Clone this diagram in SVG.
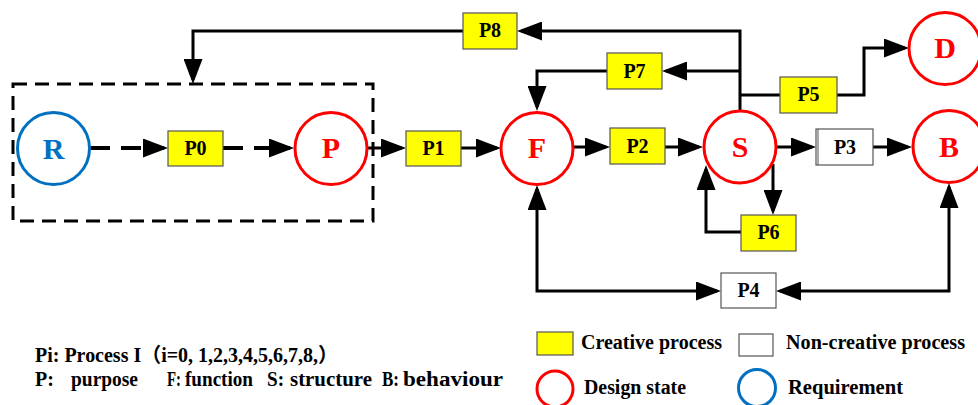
<svg xmlns="http://www.w3.org/2000/svg" width="978" height="405" viewBox="0 0 978 405">
<defs>
<marker id="arr" viewBox="0 0 25 19" refX="21" refY="9.5" markerWidth="25" markerHeight="19" markerUnits="userSpaceOnUse" orient="auto-start-reverse">
<path d="M0,0 L25,9.5 L0,19 Z" fill="#000"/>
</marker>
<style>
.c{fill:none;stroke:#000;stroke-width:3}
.d{fill:none;stroke:#000;stroke-width:4;stroke-dasharray:20 11}
.a{marker-end:url(#arr)}
.b{marker-start:url(#arr);marker-end:url(#arr)}
.y{fill:#FFFF00;stroke:#555;stroke-width:1.2}
.w{fill:#fff;stroke:#555;stroke-width:1.2}
.rs{fill:#fff;stroke:#FF0000;stroke-width:3}
.bs{fill:#fff;stroke:#0070C0;stroke-width:3}
.t{font-family:"Liberation Serif","Times New Roman","Noto Sans CJK SC",serif;font-weight:bold}
.lb{font-size:20px;text-anchor:middle;fill:#000}
.nl{font-size:30px;text-anchor:middle;fill:#FF0000}
.lg{font-size:20px;fill:#000}
.ft{font-size:20px;fill:#000}
</style>
</defs>
<rect width="978" height="405" fill="#fff"/>
<rect x="13" y="84" width="360" height="137" fill="none" stroke="#000" stroke-width="3" stroke-dasharray="14 8"/>
<g id="connectors">
<path class="d a" d="M90,148 H164"/>
<path class="d a" d="M223,148 H290"/>
<path class="c a" d="M368,148 H402"/>
<path class="c a" d="M461,148 H497"/>
<path class="c a" d="M573,147 H606"/>
<path class="c a" d="M665,147 H699"/>
<path class="c a" d="M777,147 H812"/>
<path class="c a" d="M873,147 H908"/>
<path class="c a" d="M740,110 V31 H521"/>
<path class="c a" d="M463,31 H193 V80"/>
<path class="c a" d="M740,71 H666"/>
<path class="c a" d="M607,71 H537 V107"/>
<path class="c" d="M740,95 H780"/>
<path class="c a" d="M837,95 H864 V48 H905"/>
<path class="c a" d="M773,164 V211"/>
<path class="c a" d="M741,232 H706 V169"/>
<path class="c b" d="M537,189 V291 H717"/>
<path class="c b" d="M949,187 V291 H780"/>
</g>
<g id="R"><circle class="bs" cx="53.5" cy="148.5" r="36"/><text class="t nl" x="53.5" y="159" style="fill:#0070C0">R</text></g>
<g id="P"><circle class="rs" cx="331" cy="148.5" r="36"/><text class="t nl" x="331" y="158">P</text></g>
<g id="F"><circle class="rs" cx="537" cy="148.5" r="36"/><text class="t nl" x="537" y="158">F</text></g>
<g id="S"><circle class="rs" cx="740" cy="147" r="36"/><text class="t nl" x="740" y="157">S</text></g>
<g id="D"><circle class="rs" cx="945" cy="48.5" r="36"/><text class="t nl" x="945" y="58">D</text></g>
<g id="B"><circle class="rs" cx="949" cy="146.5" r="36"/><text class="t nl" x="949" y="157">B</text></g>
<g id="P0"><rect class="y" x="168" y="131" width="55" height="35"/><text class="t lb" x="195.5" y="155">P0</text></g>
<g id="P1"><rect class="y" x="406" y="131" width="55" height="35"/><text class="t lb" x="433.5" y="155">P1</text></g>
<g id="P2"><rect class="y" x="610" y="128" width="55" height="36"/><text class="t lb" x="637.5" y="153">P2</text></g>
<g id="P3"><rect class="w" x="816" y="129" width="57" height="36"/><line x1="818" y1="129" x2="818" y2="165" stroke="#555" stroke-width="1"/><text class="t lb" x="845" y="154">P3</text></g>
<g id="P4"><rect class="w" x="721" y="273" width="55" height="35"/><text class="t lb" x="748.5" y="297">P4</text></g>
<g id="P5"><rect class="y" x="780" y="77" width="57" height="36"/><text class="t lb" x="808.5" y="101">P5</text></g>
<g id="P6"><rect class="y" x="741" y="215" width="55" height="36"/><text class="t lb" x="768.5" y="239">P6</text></g>
<g id="P7"><rect class="y" x="607" y="53" width="55" height="36"/><text class="t lb" x="634.5" y="78">P7</text></g>
<g id="P8"><rect class="y" x="463" y="13" width="54" height="36"/><text class="t lb" x="490" y="37">P8</text></g>
<g id="legend">
<rect class="y" x="537" y="332" width="36" height="23"/>
<text class="t lg" x="581" y="349" textLength="141" lengthAdjust="spacingAndGlyphs">Creative process</text>
<rect class="w" x="739" y="334" width="34" height="22"/>
<text class="t lg" x="786" y="349" textLength="179" lengthAdjust="spacingAndGlyphs">Non-creative process</text>
<circle class="rs" cx="555" cy="389" r="18"/>
<text class="t lg" x="584" y="394" textLength="102" lengthAdjust="spacingAndGlyphs">Design state</text>
<circle class="bs" cx="757" cy="388" r="18.5"/>
<text class="t lg" x="788" y="394" textLength="115" lengthAdjust="spacingAndGlyphs">Requirement</text>
</g>
<g id="notes">
<text class="t ft" x="35" y="362" textLength="303" lengthAdjust="spacingAndGlyphs">Pi: Process I（i=0, 1,2,3,4,5,6,7,8,）</text>
<text class="t ft" x="35" y="386">P:</text>
<text class="t ft" x="71" y="386" textLength="67" lengthAdjust="spacingAndGlyphs">purpose</text>
<text class="t ft" x="167" y="386" textLength="14" lengthAdjust="spacingAndGlyphs">F:</text>
<text class="t ft" x="185" y="386" textLength="68" lengthAdjust="spacingAndGlyphs">function</text>
<text class="t ft" x="267" y="386" textLength="17" lengthAdjust="spacingAndGlyphs">S:</text>
<text class="t ft" x="290" y="386" textLength="82" lengthAdjust="spacingAndGlyphs">structure</text>
<text class="t ft" x="382" y="386" textLength="17" lengthAdjust="spacingAndGlyphs">B:</text>
<text class="t ft" x="403" y="386" textLength="100" lengthAdjust="spacingAndGlyphs">behaviour</text>
</g>
</svg>
